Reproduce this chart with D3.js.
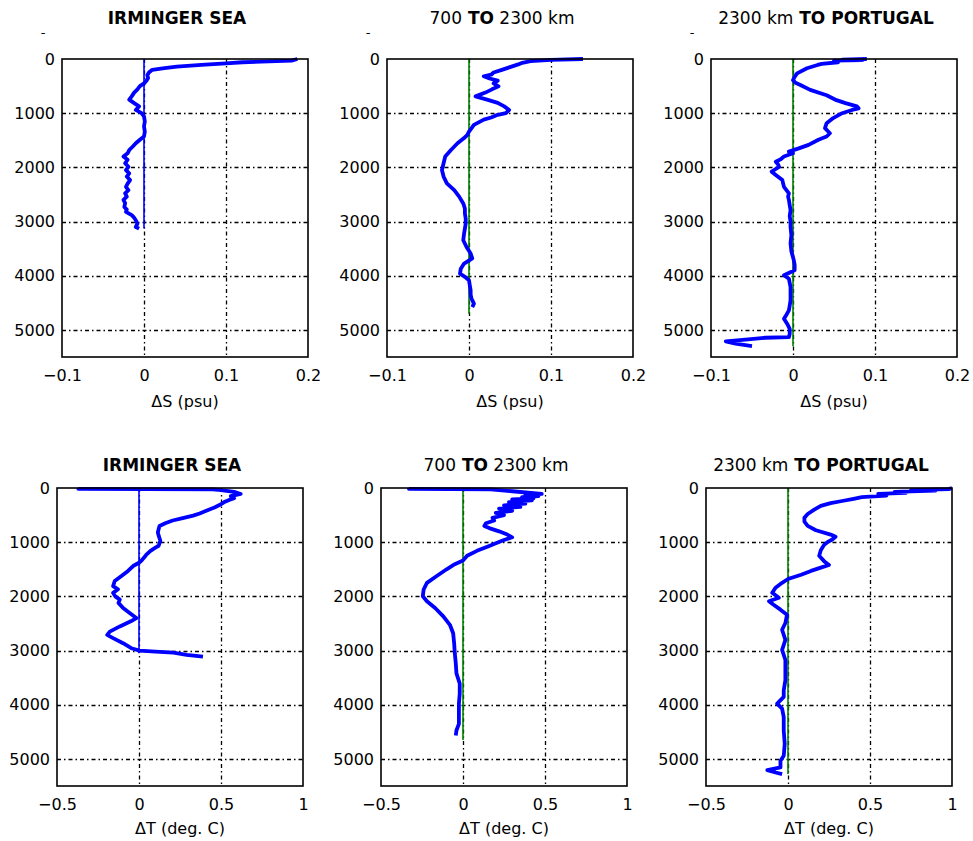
<!DOCTYPE html>
<html>
<head>
<meta charset="utf-8">
<script src="https://cdn.jsdelivr.net/npm/d3@7"></script>
<style>
  html, body { margin: 0; padding: 0; background: #fff; }
  svg { display: block; }
  text { font-family: "DejaVu Sans", sans-serif; fill: #000; }
</style>
</head>
<body>
<svg id="chart" width="973" height="841"></svg>
<script>
// ---------------- DATA ----------------
const titles = ["IRMINGER SEA", "700 TO 2300 km", "2300 km TO PORTUGAL"];
const xLabels = ["ΔS (psu)", "ΔT (deg. C)"];
const depthTicks = [0, 1000, 2000, 3000, 4000, 5000];
const depthDomain = [0, 5500];
const salinityTicks = [-0.1, 0, 0.1, 0.2];
const salinityDomain = [-0.1, 0.2];
const temperatureTicks = [-0.5, 0, 0.5, 1];
const temperatureDomain = [-0.5, 1];

// Salinity anomaly, Irminger Sea
const depthS1 = [0,30,60,80,110,140,170,200,250,300,350,400,450,500,560,620,690,750,815,875,940,1000,1060,1150,1245,1340,1430,1490,1555,1620,1680,1740,1800,1860,1925,1990,2050,2110,2170,2235,2300,2360,2420,2480,2540,2600,2660,2730,2780,2820,2880,2930,2975,3040,3100,3130];
const dS1 = [0.187,0.18,0.12,0.10,0.07,0.04,0.025,0.01,0.006,0.004,0.005,0.003,0.0,-0.005,-0.008,-0.012,-0.015,-0.018,-0.012,-0.006,-0.01,-0.003,0.0,0.001,0.0,0.001,0.0,-0.005,-0.01,-0.014,-0.018,-0.02,-0.025,-0.02,-0.023,-0.019,-0.022,-0.018,-0.021,-0.017,-0.02,-0.022,-0.019,-0.023,-0.021,-0.025,-0.023,-0.024,-0.021,-0.022,-0.015,-0.012,-0.01,-0.008,-0.01,-0.006];

// Salinity anomaly, 700 to 2300 km
const depthS2 = [0,15,40,70,100,150,200,250,290,320,360,400,450,505,560,620,690,750,810,875,940,1000,1030,1080,1120,1215,1340,1400,1460,1555,1680,1800,1925,2050,2170,2295,2420,2540,2665,2760,2850,2950,3035,3130,3220,3345,3470,3590,3680,3775,3870,3960,4020,4085,4180,4270,4350,4420,4515,4580];
const dS2 = [0.139,0.1,0.075,0.065,0.06,0.05,0.04,0.03,0.027,0.018,0.025,0.035,0.03,0.036,0.028,0.02,0.008,0.022,0.035,0.043,0.049,0.045,0.035,0.027,0.018,0.006,0.0,-0.002,-0.006,-0.014,-0.022,-0.029,-0.031,-0.033,-0.031,-0.027,-0.018,-0.012,-0.007,-0.005,-0.005,-0.004,-0.004,-0.005,-0.006,-0.007,-0.003,0.002,0.004,-0.006,-0.01,-0.011,-0.005,0.0,0.001,0.002,0.002,0.003,0.006,0.004];

// Salinity anomaly, 2300 km to Portugal
const depthS3 = [0,10,20,30,60,90,110,170,265,330,390,440,480,570,670,760,815,875,910,940,1000,1090,1185,1275,1370,1430,1490,1585,1650,1710,1740,1800,1850,1895,1950,1990,2040,2080,2140,2235,2300,2360,2420,2480,2540,2600,2700,2790,2900,3000,3100,3250,3400,3550,3715,3800,3900,3990,4055,4130,4210,4330,4455,4550,4640,4720,4795,4890,4980,5070,5135,5145,5180,5210,5255,5300];
const dS3 = [0.09,0.06,0.085,0.05,0.055,0.035,0.03,0.017,0.005,0.002,0.0,0.003,0.009,0.021,0.041,0.053,0.064,0.078,0.08,0.072,0.06,0.049,0.041,0.039,0.045,0.041,0.031,0.019,0.007,-0.005,0.0,-0.011,-0.015,-0.021,-0.018,-0.017,-0.022,-0.026,-0.021,-0.013,-0.012,-0.011,-0.008,-0.005,-0.006,-0.005,-0.004,-0.003,-0.004,-0.003,-0.003,-0.002,-0.003,-0.002,0.001,0.002,0.002,-0.011,-0.005,-0.004,-0.003,-0.003,-0.003,-0.004,-0.005,-0.008,-0.011,-0.007,-0.004,-0.004,-0.005,-0.034,-0.058,-0.082,-0.07,-0.05];

// Temperature anomaly, Irminger Sea
const depthT1 = [0,15,25,40,70,110,150,190,220,260,300,360,420,470,510,560,600,650,700,756,820,880,973,1066,1100,1160,1230,1250,1345,1380,1440,1530,1625,1717,1810,1870,1935,2000,2060,2120,2215,2306,2400,2460,2555,2650,2710,2770,2865,2957,3000,3020,3040,3080,3112];
const dT1 = [-0.37,-0.37,0.45,0.5,0.58,0.62,0.56,0.58,0.55,0.52,0.5,0.46,0.41,0.37,0.33,0.26,0.205,0.16,0.125,0.12,0.115,0.12,0.13,0.12,0.1,0.07,0.045,0.04,0.014,0.0,-0.036,-0.067,-0.107,-0.148,-0.158,-0.128,-0.158,-0.145,-0.117,-0.125,-0.097,-0.057,-0.016,-0.05,-0.117,-0.178,-0.194,-0.158,-0.097,-0.047,0.004,0.1,0.21,0.29,0.39];

// Temperature anomaly, 700 to 2300 km
const depthT2 = [0,15,25,60,110,130,150,170,190,210,230,260,290,320,350,380,420,460,500,550,600,650,700,740,800,860,910,960,1020,1070,1160,1250,1340,1407,1500,1625,1750,1873,1997,2090,2215,2370,2525,2680,2865,3050,3236,3422,3608,3794,3980,4166,4352,4476,4570];
const dT2 = [-0.33,-0.33,0.17,0.3,0.48,0.38,0.46,0.36,0.43,0.3,0.42,0.28,0.38,0.25,0.35,0.22,0.3,0.2,0.25,0.18,0.19,0.14,0.13,0.16,0.22,0.27,0.3,0.25,0.2,0.16,0.085,0.025,0.0,-0.05,-0.1,-0.16,-0.22,-0.24,-0.245,-0.22,-0.17,-0.12,-0.08,-0.06,-0.054,-0.05,-0.044,-0.04,-0.02,-0.02,-0.025,-0.025,-0.025,-0.04,-0.044];

// Temperature anomaly, 2300 km to Portugal
const depthT3 = [0,20,40,50,70,90,110,140,170,200,240,280,330,400,480,550,620,700,780,860,900,950,1000,1050,1150,1250,1350,1420,1470,1530,1600,1680,1750,1841,1935,2027,2090,2151,2245,2338,2492,2616,2802,2988,3174,3360,3546,3732,3856,3980,4073,4228,4476,4724,4941,5034,5158,5208,5251,5282];
const dT3 = [1.0,0.98,0.75,0.9,0.65,0.72,0.55,0.6,0.45,0.4,0.33,0.26,0.2,0.16,0.12,0.1,0.1,0.12,0.17,0.26,0.29,0.27,0.24,0.22,0.2,0.19,0.22,0.25,0.2,0.14,0.08,0.0,-0.036,-0.076,-0.096,-0.056,-0.116,-0.09,-0.046,-0.006,-0.016,-0.036,-0.016,-0.036,-0.016,-0.016,-0.016,-0.026,-0.026,-0.066,-0.036,-0.026,-0.026,-0.02,-0.026,-0.046,-0.046,-0.126,-0.076,-0.036];

// Depth to which the zero reference line is drawn in each panel
const zeroLineDepth = [3130, 4700, 5300, 3050, 4650, 5280];

// ---------------- LAYOUT ----------------
const svg = d3.select("#chart");
const W = 246, H = 298;
const rowTop = [59, 488];
const colLeft = [[62, 387, 711], [57, 381, 706]];
const titleBase = [24, 471];
const xLabelBase = [407, 834];

const profiles = [
  [[depthS1, dS1], [depthS2, dS2], [depthS3, dS3]],
  [[depthT1, dT1], [depthT2, dT2], [depthT3, dT3]]
];
const xDomains = [salinityDomain, temperatureDomain];
const xTickSets = [salinityTicks, temperatureTicks];

const fmtX = d => (d < 0 ? "\u2212" : "") + String(Math.abs(d));

for (let r = 0; r < 2; r++) {
  for (let c = 0; c < 3; c++) {
    const left = colLeft[r][c], top = rowTop[r];
    const g = svg.append("g").attr("transform", `translate(${left},${top})`);
    const x = d3.scaleLinear().domain(xDomains[r]).range([0, W]);
    const y = d3.scaleLinear().domain(depthDomain).range([0, H]);

    // grid (dash-dot)
    const gridStyle = sel => sel.attr("stroke", "#000").attr("stroke-width", 1.3)
      .attr("stroke-dasharray", "4,3,1.5,3");
    g.selectAll(".vg").data(xTickSets[r].filter(t => t > xDomains[r][0] && t < xDomains[r][1]))
      .enter().append("line")
      .attr("x1", d => Math.round(x(d)) + 0.5).attr("x2", d => Math.round(x(d)) + 0.5)
      .attr("y1", 0).attr("y2", H).call(gridStyle);
    g.selectAll(".hg").data(depthTicks.filter(t => t > depthDomain[0] && t < depthDomain[1]))
      .enter().append("line")
      .attr("y1", d => Math.round(y(d)) + 0.5).attr("y2", d => Math.round(y(d)) + 0.5)
      .attr("x1", 0).attr("x2", W).call(gridStyle);

    // zero reference line
    const idx = r * 3 + c;
    g.append("line")
      .attr("x1", x(0)).attr("x2", x(0))
      .attr("y1", y(0)).attr("y2", y(zeroLineDepth[idx]))
      .attr("stroke", c === 0 ? "#0000ff" : "#008000")
      .attr("stroke-width", 1.6);

    // profile
    const [dep, val] = profiles[r][c];
    const n = Math.min(dep.length, val.length);
    const pts = d3.range(n).map(i => [val[i], dep[i]]);
    const line = d3.line().x(d => x(d[0])).y(d => y(d[1]));
    g.append("path").datum(pts)
      .attr("d", line)
      .attr("fill", "none")
      .attr("stroke", "#0000ff")
      .attr("stroke-width", 3.8)
      .attr("stroke-linejoin", "round")
      .attr("stroke-linecap", "butt");

    // box
    g.append("rect").attr("x", 0).attr("y", 0).attr("width", W).attr("height", H)
      .attr("fill", "none").attr("stroke", "#000").attr("stroke-width", 1.6);

    // axes (labels only)
    const xa = g.append("g").attr("transform", `translate(0,${H})`)
      .call(d3.axisBottom(x).tickValues(xTickSets[r]).tickSize(0).tickPadding(13).tickFormat(fmtX));
    xa.select(".domain").remove();
    xa.selectAll("text").style("font-size", "16px").style("font-family", "'DejaVu Sans', sans-serif");

    const ya = g.append("g")
      .call(d3.axisLeft(y).tickValues(depthTicks).tickSize(0).tickPadding(7).tickFormat(d3.format("d")));
    ya.select(".domain").remove();
    ya.selectAll("text").style("font-size", "16px").style("font-family", "'DejaVu Sans', sans-serif");

    // title, mixed weight: all-uppercase words bold
    const tt = svg.append("text")
      .attr("x", left + W / 2 - 8).attr("y", titleBase[r])
      .attr("text-anchor", "middle")
      .style("font-size", "17px");
    titles[c].split(" ").forEach((w, i) => {
      tt.append("tspan")
        .text((i > 0 ? " " : "") + w)
        .style("font-weight", /^[A-Z]+$/.test(w) ? "bold" : "normal");
    });

    // x label
    svg.append("text")
      .attr("x", left + W / 2).attr("y", xLabelBase[r])
      .attr("text-anchor", "middle")
      .style("font-size", "16px")
      .text(xLabels[r]);

    // small exponent-like mark above top row
    if (r === 0) {
      svg.append("text")
        .attr("x", left - 19).attr("y", 37)
        .attr("text-anchor", "middle")
        .style("font-size", "13px")
        .text("-");
    }
  }
}
</script>
</body>
</html>
